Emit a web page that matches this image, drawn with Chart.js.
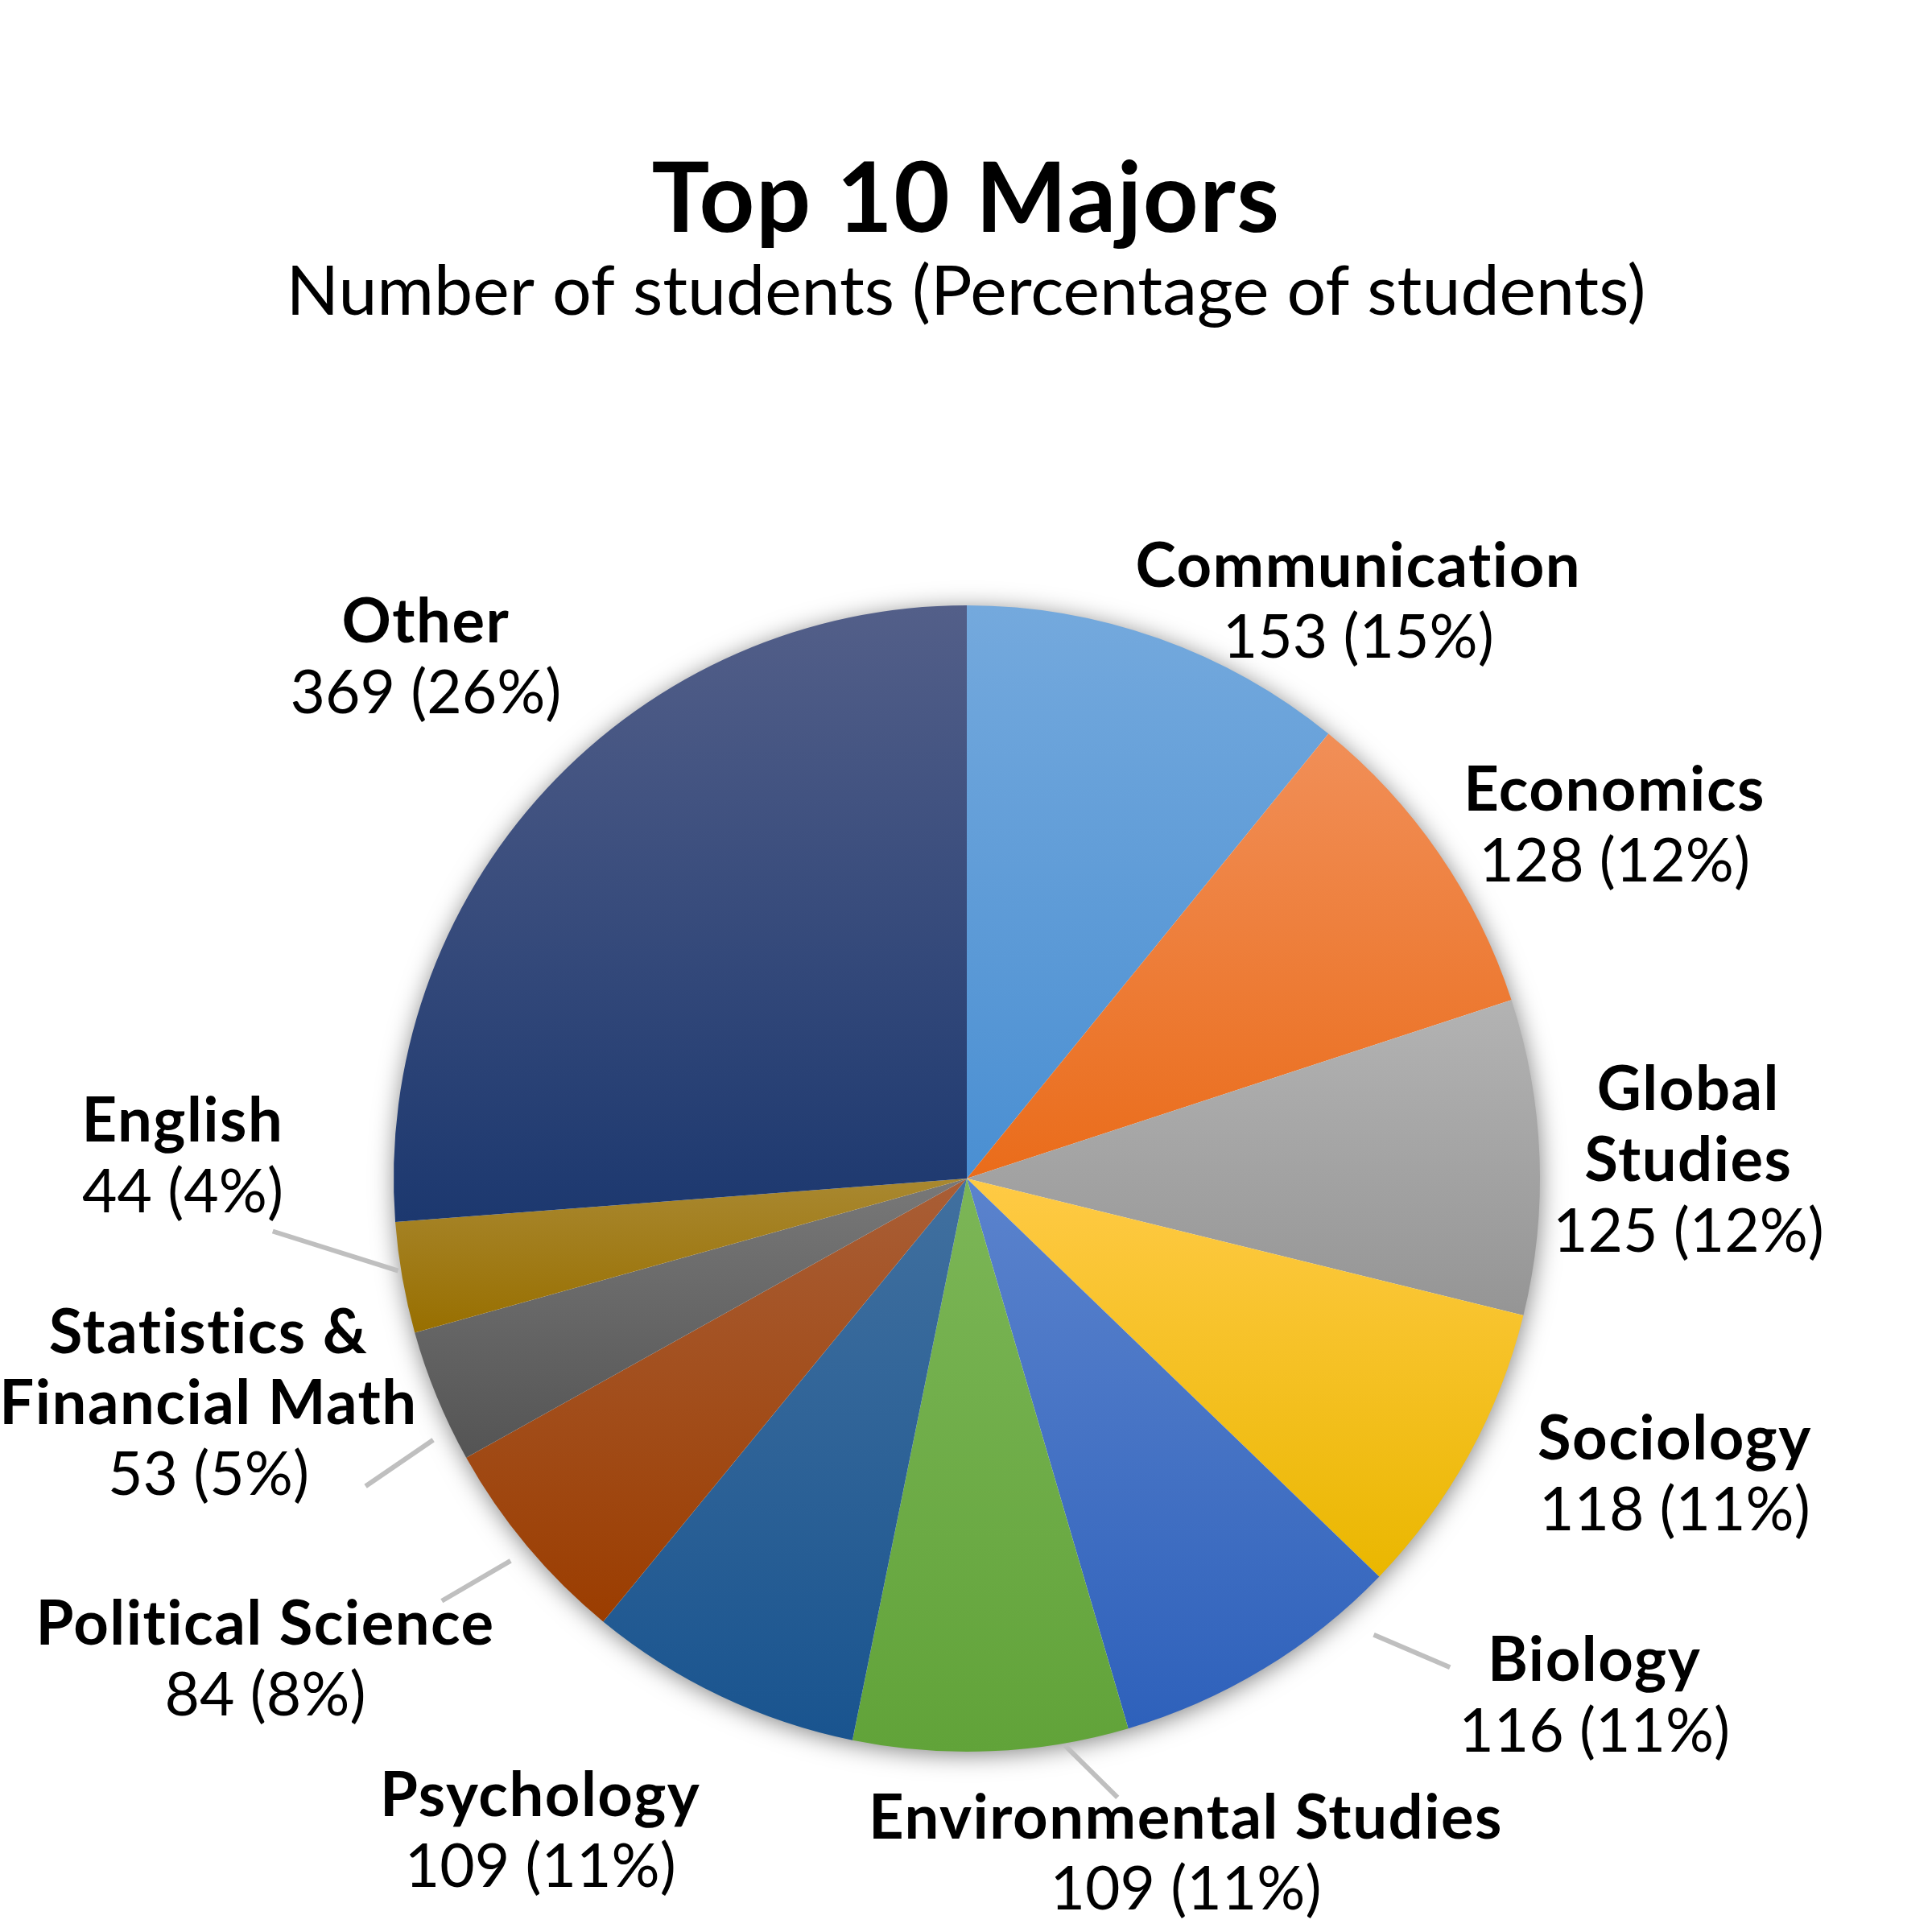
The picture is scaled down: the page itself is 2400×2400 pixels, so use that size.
<!DOCTYPE html>
<html>
<head>
<meta charset="utf-8">
<script src="https://cdn.jsdelivr.net/npm/chart.js@4.4.1/dist/chart.umd.min.js"></script>
<style>
  html, body { margin: 0; padding: 0; background: #fff; }
  #wrap { width: 2400px; height: 2400px; }
</style>
</head>
<body>
<div id="wrap"><canvas id="chart"></canvas></div>
<script>
// ---------------- data ----------------
const categories = [
  'Communication', 'Economics', ['Global', 'Studies'], 'Sociology', 'Biology',
  'Environmental Studies', 'Psychology', 'Political Science',
  ['Statistics &', 'Financial Math'], 'English', 'Other'
];
const students = [153, 128, 125, 118, 116, 109, 109, 84, 53, 44, 369];
const percentLabels = ['15%', '12%', '12%', '11%', '11%', '11%', '11%', '8%', '5%', '4%', '26%'];

const titleText = 'Top 10 Majors';
const subtitleText = 'Number of students (Percentage of students)';

// ---------------- style ----------------
// [top, bottom] of each slice's vertical gradient
const palette = [
  ['#74a9dd', '#4a8fd2'],
  ['#f18f58', '#ea6c1a'],
  ['#b3b3b3', '#959595'],
  ['#ffca45', '#eab700'],
  ['#5b83cd', '#2e61bb'],
  ['#7cb657', '#61a339'],
  ['#41709f', '#19548f'],
  ['#a95e36', '#9b3d00'],
  ['#787878', '#545454'],
  ['#a98830', '#986f00'],
  ['#535f89', '#1c386f']
];

const FONT = 'Lato, "Noto Sans", sans-serif';

// label block placement, in units of the pie radius from the centre (first baseline)
const labelLayout = [
  { dx: 0.683, dy: -1.032 },
  { dx: 1.130, dy: -0.642 },
  { dx: 1.259, dy: -0.119 },
  { dx: 1.235, dy: 0.490 },
  { dx: 1.095, dy: 0.876, leader: [[0.843, 0.853], [0.710, 0.796]] },
  { dx: 0.382, dy: 1.151, leader: [[0.263, 1.080], [0.171, 0.989]] },
  { dx: -0.744, dy: 1.113 },
  { dx: -1.224, dy: 0.813, leader: [[-0.916, 0.737], [-0.796, 0.667]] },
  { dx: -1.323, dy: 0.305, leader: [[-1.049, 0.537], [-0.931, 0.456]] },
  { dx: -1.368, dy: -0.064, leader: [[-1.211, 0.092], [-0.992, 0.161]] },
  { dx: -0.944, dy: -0.936 }
];

// vertical gradient spanning one slice's bounding box
function sliceGradient(context) {
  const chart = context.chart;
  const area = chart.chartArea;
  const i = context.dataIndex;
  if (!area || i === undefined) return palette[0][1];
  const cx = (area.left + area.right) / 2;
  const cy = (area.top + area.bottom) / 2;
  const R = Math.min(area.right - area.left, area.bottom - area.top) / 2;
  const data = context.dataset.data;
  const total = data.reduce((a, b) => a + b, 0);
  let before = 0;
  for (let k = 0; k < i; k++) before += data[k];
  const a0 = -Math.PI / 2 + before / total * Math.PI * 2;
  const a1 = a0 + data[i] / total * Math.PI * 2;
  const ys = [cy, cy + R * Math.sin(a0), cy + R * Math.sin(a1)];
  // top / bottom extremes inside the slice
  [-Math.PI / 2, Math.PI / 2, Math.PI * 1.5].forEach(a => {
    if (a > a0 && a < a1) ys.push(cy + R * Math.sin(a));
  });
  const y0 = Math.min(...ys), y1 = Math.max(...ys);
  const g = chart.ctx.createLinearGradient(0, y0, 0, y1);
  g.addColorStop(0, palette[i][0]);
  g.addColorStop(1, palette[i][1]);
  return g;
}

const pieShadow = {
  id: 'pieShadow',
  beforeDatasetsDraw(chart) {
    const arc = chart.getDatasetMeta(0).data[0];
    if (!arc) return;
    const ctx = chart.ctx;
    ctx.save();
    ctx.shadowColor = 'rgba(0,0,0,0.5)';
    ctx.shadowBlur = 30;
    ctx.shadowOffsetX = 1;
    ctx.shadowOffsetY = 4;
    ctx.fillStyle = '#ffffff';
    ctx.beginPath();
    ctx.arc(arc.x, arc.y, arc.outerRadius - 1, 0, Math.PI * 2);
    ctx.fill();
    ctx.restore();
  }
};

const sliceLabels = {
  id: 'sliceLabels',
  afterDatasetsDraw(chart, args, opts) {
    const ctx = chart.ctx;
    const arcs = chart.getDatasetMeta(0).data;
    const cx = arcs[0].x, cy = arcs[0].y, R = arcs[0].outerRadius;
    const values = chart.data.datasets[0].data;
    ctx.save();
    ctx.textAlign = 'center';
    ctx.textBaseline = 'alphabetic';
    opts.layout.forEach((l, i) => {
      if (l.leader) {
        ctx.strokeStyle = opts.leaderColor;
        ctx.lineWidth = opts.leaderWidth;
        ctx.beginPath();
        ctx.moveTo(cx + l.leader[0][0] * R, cy + l.leader[0][1] * R);
        ctx.lineTo(cx + l.leader[1][0] * R, cy + l.leader[1][1] * R);
        ctx.stroke();
      }
      const x = cx + l.dx * R;
      let y = cy + l.dy * R;
      ctx.fillStyle = opts.color;
      ctx.font = opts.nameFont;
      ctx.letterSpacing = opts.nameSpacing;
      [].concat(chart.data.labels[i]).forEach(line => {
        ctx.fillText(line, x, y);
        y += opts.lineHeight;
      });
      ctx.font = opts.valueFont;
      ctx.letterSpacing = '0px';
      ctx.fillText(values[i] + ' (' + percentLabels[i] + ')', x, y);
    });
    ctx.restore();
  },
  afterDraw(chart, args, opts) {
    const ctx = chart.ctx;
    ctx.save();
    ctx.textAlign = 'center';
    ctx.textBaseline = 'alphabetic';
    ctx.fillStyle = opts.color;
    ctx.font = opts.titleFont;
    ctx.letterSpacing = opts.titleSpacing;
    ctx.fillText(titleText, opts.titleX, opts.titleY);
    ctx.font = opts.subtitleFont;
    ctx.letterSpacing = '0px';
    ctx.fillText(subtitleText, opts.titleX, opts.subtitleY);
    ctx.restore();
  }
};

new Chart(document.getElementById('chart'), {
  type: 'pie',
  data: {
    labels: categories,
    datasets: [{
      data: students,
      backgroundColor: sliceGradient,
      borderWidth: 0
    }]
  },
  options: {
    responsive: true,
    maintainAspectRatio: false,
    devicePixelRatio: 1,
    animation: false,
    layout: { padding: { left: 489, right: 487, top: 752, bottom: 224 } },
    plugins: {
      legend: { display: false },
      tooltip: { enabled: false },
      sliceLabels: {
        layout: labelLayout,
        color: '#000000',
        nameFont: 'bold 76px ' + FONT,
        nameSpacing: '1.5px',
        valueFont: 'normal 75px ' + FONT,
        lineHeight: 88,
        leaderColor: '#bfbfbf',
        leaderWidth: 6,
        titleFont: 'bold 120px ' + FONT,
        titleSpacing: '1.5px',
        subtitleFont: 'normal 86px ' + FONT,
        titleX: 1200,
        titleY: 288,
        subtitleY: 391
      }
    }
  },
  plugins: [pieShadow, sliceLabels]
});
</script>
</body>
</html>
